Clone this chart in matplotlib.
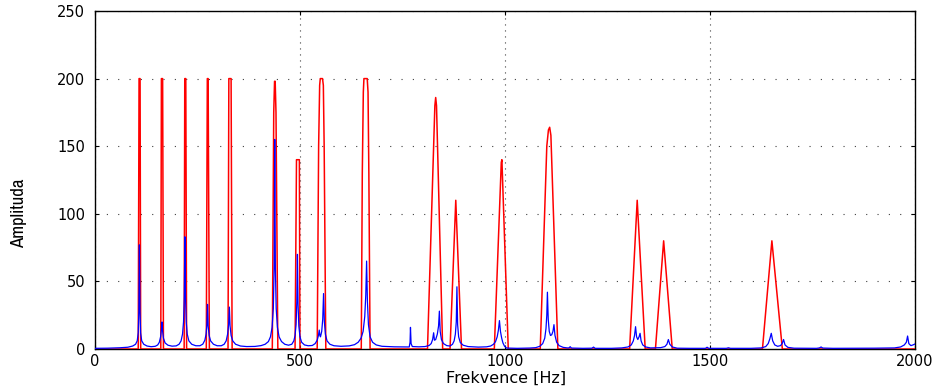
import matplotlib
matplotlib.use("Agg")
import matplotlib.pyplot as plt
from matplotlib import font_manager

# red spectrum: vertices (Hz, amplitude), clipped at 200
red_hz = [0,
          105.5, 107.5, 110, 111.5,
          160.5, 162, 165, 167,
          217.5, 219, 221.5, 223.5,
          271.5, 274, 276, 279,
          324.5, 326.5, 332, 334.5,
          432.5, 436, 438, 439.5, 441.5, 446,
          488, 491.5, 498.5, 500,
          542, 545.5, 548, 549.5, 555, 557, 559, 563,
          649.5, 652, 654.5, 656, 664, 666, 668, 671,
          811, 829, 831, 833, 848,
          866, 880, 894,
          974, 991, 992.5, 1008,
          1086, 1102, 1106, 1109, 1112, 1129,
          1304, 1322.5, 1342,
          1367, 1387, 1408,
          1628, 1651, 1676.5,
          2000]
red_amp = [0,
           0, 200, 200, 0,
           0, 200, 200, 0,
           0, 200, 200, 0,
           0, 200, 200, 0,
           0, 200, 200, 0,
           0, 175, 198, 198, 175, 0,
           0, 140, 140, 0,
           0, 150, 195, 200, 200, 195, 150, 0,
           0, 130, 190, 200, 200, 190, 130, 0,
           0, 180, 186, 180, 0,
           0, 110, 0,
           0, 138, 140, 0,
           0, 150, 162, 164, 158, 0,
           0, 110, 0,
           0, 80, 0,
           0, 80, 0,
           0]

# blue spectrum: vertices (Hz, amplitude)
blue_hz = [0, 30, 60, 80, 92, 99, 103, 105.5, 107, 108.4, 109.8, 111.3, 114, 119, 127, 137,
           147, 153, 157, 160, 162, 163.5, 165, 167, 171, 178, 188,
           198, 205, 210, 213.5, 216, 217.8, 219.3, 220.8, 222.6, 225, 229, 236, 246,
           256, 263, 268, 271, 273, 274.5, 276, 278.5, 282, 289, 298,
           308, 315, 320, 323.5, 326, 327.8, 329.5, 332, 336, 343, 355,
           370, 390, 405, 415, 423, 428, 432, 435, 437, 438.5, 440, 442, 445, 449, 455, 463, 472,
           480, 485, 488, 490.5, 492.3, 493.8, 495.3, 497.2, 500, 504, 511, 520,
           530, 537, 542, 545, 547, 548.5, 550, 553, 555.5, 557.5, 559.5, 562, 566, 573, 583,
           600, 620, 633, 642, 649, 654, 658, 660.5, 662.5, 664.5, 667, 671, 677, 686, 700, 730, 760,
           766.5, 768.5, 769.5, 771, 774, 790, 805,
           815, 820, 823.5, 826, 828, 831, 835, 838, 840, 842, 845, 850, 858, 866,
           872, 876, 879, 881.2, 882.8, 884.5, 887, 891, 898, 910, 935, 955,
           965, 972, 977, 981, 984, 986.5, 989, 992, 995, 999, 1004, 1030, 1060,
           1075, 1085, 1092, 1097, 1100, 1102, 1103.5, 1105.5, 1108, 1111, 1114, 1117, 1119.5,
           1122, 1126, 1132, 1142, 1152,
           1156, 1159, 1162, 1190, 1212, 1216, 1220,
           1260, 1285, 1300, 1308, 1313, 1316, 1318.5, 1321, 1324, 1327, 1329.5, 1332, 1336,
           1343, 1355,
           1380, 1390, 1395, 1398.5, 1402, 1408, 1420, 1450,
           1489, 1493, 1497, 1540, 1545, 1550,
           1600, 1625, 1636, 1642, 1646, 1649.5, 1653, 1658, 1665, 1672, 1676, 1679.5, 1683,
           1690, 1705,
           1760, 1767, 1771, 1775, 1800,
           1900, 1950, 1965, 1974, 1979, 1982, 1985, 1990, 1995, 2000]
blue_amp = [0.5, 0.6, 0.9, 1.3, 2.2, 3.5, 6, 12, 28, 77, 28, 12, 6, 3.5, 2.2, 1.7,
            2.0, 3, 5, 9, 14, 20, 13, 8, 4.5, 2.8, 2.1,
            2.3, 3.5, 6, 11, 20, 38, 83, 38, 20, 11, 6, 3.5, 2.4,
            2.4, 3.6, 6.5, 11, 18, 33, 17, 10, 6, 3.5, 2.4,
            2.4, 3.5, 6, 11, 18, 31, 17, 10, 6, 3.5, 2.2,
            1.8, 1.9, 2.5, 3.5, 5.5, 9, 16, 30, 60, 155, 60, 30, 16, 9, 5.5, 3.5, 2.8,
            3.5, 6, 10, 18, 35, 70, 33, 17, 9, 5, 3, 2.4,
            2.6, 4, 6.5, 10, 14, 10, 9, 13, 22, 41, 20, 11, 6, 3.5, 2.4,
            2.0, 2.3, 3.2, 5, 8, 13, 24, 40, 65, 35, 18, 9, 5, 3, 2, 1.6, 1.5,
            1.5, 5, 16, 4, 1.8, 1.6, 1.8,
            2.6, 4, 7, 12, 6.5, 7, 11, 17, 28, 13, 7, 4, 2.5, 2.2,
            3.5, 6, 11, 20, 46, 18, 9, 4.8, 2.8, 1.8, 1.4, 1.6,
            2.2, 3.5, 5.5, 9, 14, 21, 13, 8, 4.5, 2, 0.7, 0.5, 0.7,
            1, 2, 4, 8, 15, 25, 42, 22, 13, 10, 10.5, 13, 18,
            10, 5, 2.5, 1.2, 0.8,
            0.8, 1.7, 0.7, 0.5, 0.6, 1.4, 0.5,
            0.5, 0.8, 1.5, 3, 6, 10, 16.5, 9, 7, 9, 11.6, 6, 3,
            1.5, 0.8,
            1, 1.8, 3.5, 7, 3.5, 1.5, 0.6, 0.5,
            0.5, 1.3, 0.5, 0.5, 0.9, 0.5,
            0.5, 0.8, 1.8, 4, 7.5, 11.6, 6, 3, 2, 2.5, 4, 7, 3,
            1.2, 0.6,
            0.5, 0.8, 1.5, 0.7, 0.5,
            0.6, 0.8, 1.5, 3, 5, 9.6, 4, 2.5, 3, 3.7]

x_ticks = [0, 500, 1000, 1500, 2000]
y_ticks = [0, 50, 100, 150, 200, 250]


def _narrow_font():
    """Pick a narrow/condensed family for the y label if one is installed."""
    fonts = font_manager.fontManager.ttflist
    for f in fonts:
        if "Narrow" in f.name:
            return {"family": f.name}
    for f in fonts:
        if "condensed" in str(f.stretch).lower() or "Condensed" in f.fname:
            return {"fname": f.fname}
    return {"family": "DejaVu Sans"}


fig = plt.figure(figsize=(9.46, 3.87), dpi=100)
ax = fig.add_axes([0.1004, 0.0982, 0.8668, 0.8734])

ax.plot(red_hz, red_amp, color="red", lw=1.1, zorder=3)
ax.plot(blue_hz, blue_amp, color="blue", lw=0.9, zorder=4)

ax.set_xlim(0, 2000)
ax.set_ylim(0, 250)
ax.set_xticks(x_ticks)
ax.set_yticks(y_ticks)

# MATLAB-like dotted grid (different dot spacing on the two axes)
ax.xaxis.grid(True, color="0.25", lw=0.8, linestyle=(0, (1, 4.4)))
ax.yaxis.grid(True, color="0.25", lw=0.8, linestyle=(0, (1, 9.2)))

ax.tick_params(direction="in", length=3, width=0.8, top=True, right=True,
               labelsize=10.5)
ax.tick_params(axis="x", pad=3.5)
ax.tick_params(axis="y", pad=7)
for s in ax.spines.values():
    s.set_linewidth(1.0)

ax.set_xlabel("Frekvence [Hz]", fontsize=11.5)
ax.xaxis.set_label_coords(0.501, -0.0655)

nf = _narrow_font()
if "fname" in nf:
    ylab_prop = font_manager.FontProperties(fname=nf["fname"], size=13.5)
else:
    ylab_prop = font_manager.FontProperties(family=nf["family"], size=13.5)
ax.set_ylabel("Amplituda", fontproperties=ylab_prop)
ax.yaxis.set_label_coords(-0.083, 0.40)

fig.savefig("out.png", dpi=100)
